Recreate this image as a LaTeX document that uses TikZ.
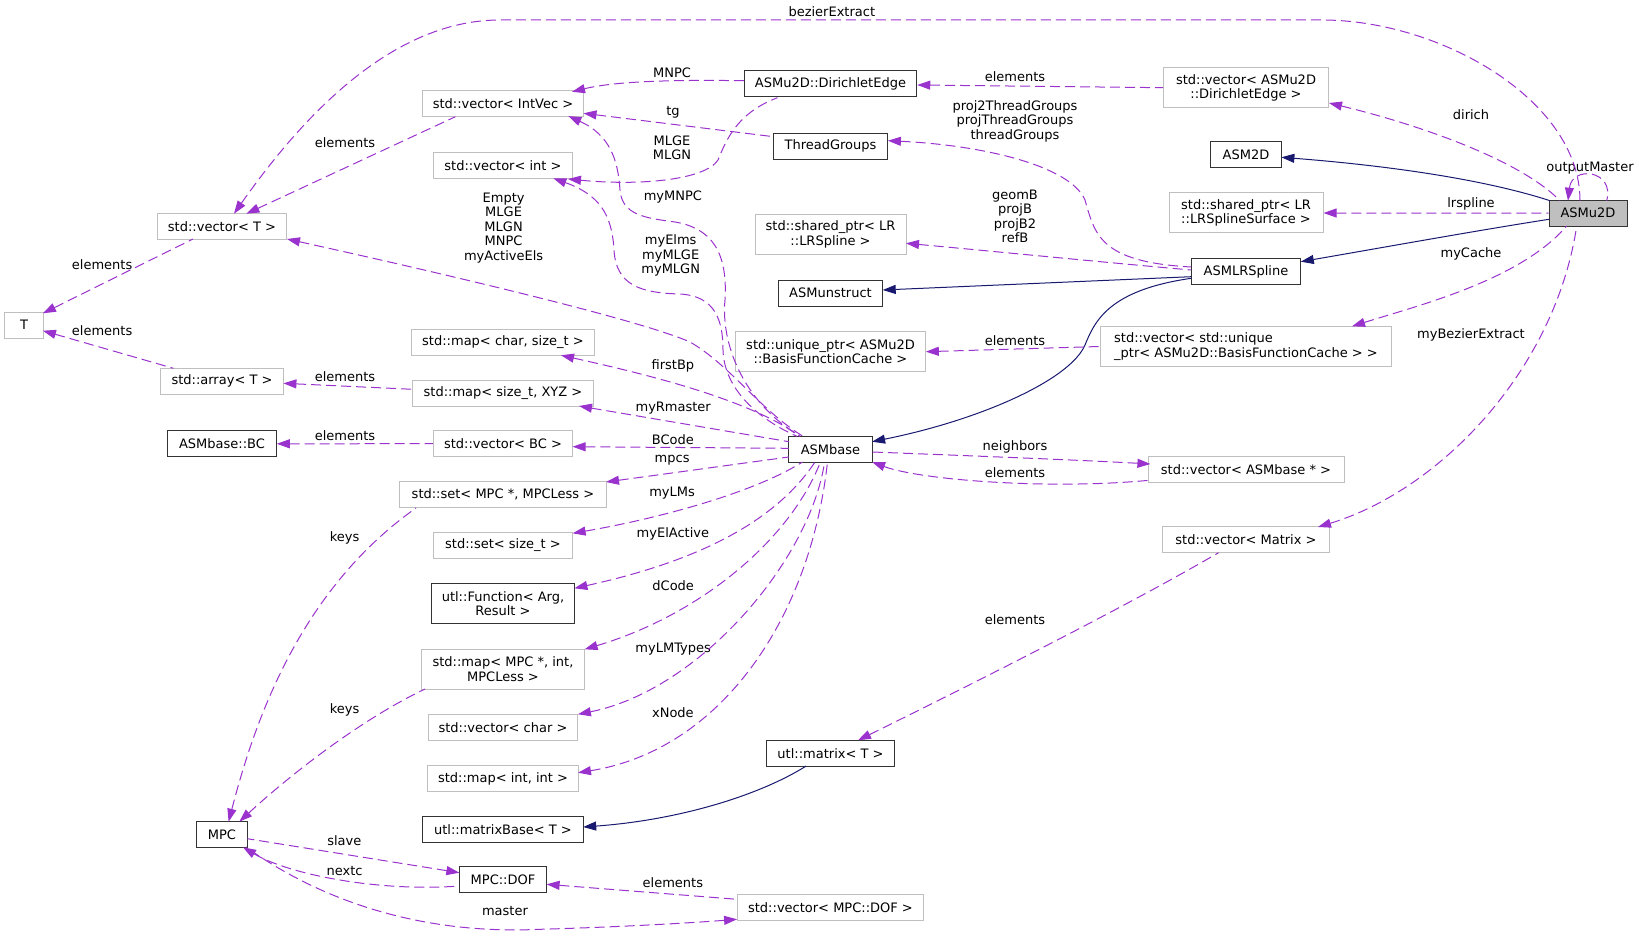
\documentclass[tikz,border=0pt]{standalone}
\usepackage{fontspec}
\setmainfont{DejaVu Sans}
\usetikzlibrary{arrows.meta,calc}
\definecolor{depc}{HTML}{9A32CD}
\definecolor{inhc}{HTML}{191970}
\definecolor{gb}{HTML}{BFBFBF}
\definecolor{bb}{HTML}{333333}
\begin{document}
\begin{tikzpicture}[x=1pt,y=-1pt,
  font=\fontsize{13}{14.5}\selectfont,
  box/.style={draw=bb, line width=1pt, fill=white, minimum height=25.7pt, inner sep=0pt, align=center},
  gbox/.style={box, draw=gb},
  tall/.style={minimum height=40pt},
  lab/.style={inner sep=0pt, align=center},
  dep/.style={draw=depc, line width=1pt, dash pattern=on 10pt off 5pt, arrows={Triangle[length=13pt,width=9pt,fill=depc]-}},
  inh/.style={draw=inhc, line width=1pt, arrows={Triangle[length=13pt,width=9pt,fill=inhc]-}}
]
\useasboundingbox (0,0) rectangle (1639,936);
% ---------- nodes ----------
\node[box, fill=gb, minimum width=78pt] (ASMu2D) at (1588,213.2) {ASMu2D};
\node[gbox, minimum width=129.3pt] (vecT) at (222,226.3) {std::vector< T >};
\node[gbox, minimum width=39pt] (T) at (24.1,325.2) {T};
\node[gbox, minimum width=161pt] (IntVec) at (503,103.8) {std::vector< IntVec >};
\node[gbox, minimum width=139.3pt] (vecInt) at (503,165.5) {std::vector< int >};
\node[box, minimum width=172.5pt] (DirEdge) at (830.5,83.7) {ASMu2D::DirichletEdge};
\node[box, minimum width=114pt] (TG) at (830.5,146.3) {ThreadGroups};
\node[gbox, tall, minimum width=151pt] (sharedLR) at (830.5,234.5) {std::shared\_ptr< LR\\::LRSpline >};
\node[box, minimum width=104.3pt] (ASMun) at (830.5,293.2) {ASMunstruct};
\node[gbox, tall, minimum width=165pt] (vecDir) at (1246,87.7) {std::vector< ASMu2D\\::DirichletEdge >};
\node[box, minimum width=70.7pt] (ASM2D) at (1246,154.3) {ASM2D};
\node[gbox, tall, minimum width=154pt] (sharedSurf) at (1246,213) {std::shared\_ptr< LR\\::LRSplineSurface >};
\node[box, minimum width=109.6pt] (ASMLR) at (1246,271.8) {ASMLRSpline};
\node[gbox, tall, minimum width=291.4pt, align=left] (vecUnique) at (1246,346.5) {std::vector< std::unique\\\_ptr< ASMu2D::BasisFunctionCache > >};
\node[gbox, minimum width=196pt] (vecASMbase) at (1246,469.2) {std::vector< ASMbase * >};
\node[gbox, minimum width=166.8pt] (vecMatrix) at (1246,539.8) {std::vector< Matrix >};
\node[gbox, minimum width=122.8pt] (arrayT) at (222,381.2) {std::array< T >};
\node[gbox, minimum width=182.8pt] (mapChar) at (503,342.5) {std::map< char, size\_t >};
\node[gbox, minimum width=181pt] (mapXYZ) at (503,393.2) {std::map< size\_t, XYZ >};
\node[box, minimum width=108.5pt] (BC) at (222,443.8) {ASMbase::BC};
\node[gbox, minimum width=139.3pt] (vecBC) at (503,443.7) {std::vector< BC >};
\node[gbox, minimum width=207.5pt] (setMPC) at (503,494.7) {std::set< MPC *, MPCLess >};
\node[gbox, minimum width=139.3pt] (setSize) at (503,545.2) {std::set< size\_t >};
\node[box, tall, minimum width=142.8pt] (utlFunc) at (503,603.7) {utl::Function< Arg,\\Result >};
\node[gbox, tall, minimum width=189.7pt] (uniqueBFC) at (830.5,351.7) {std::unique\_ptr< ASMu2D\\::BasisFunctionCache >};
\node[box, minimum width=83.2pt] (ASMbase) at (830.5,449.2) {ASMbase};
\node[gbox, tall, minimum width=163.2pt] (mapMPC) at (503,669.2) {std::map< MPC *, int,\\MPCLess >};
\node[gbox, minimum width=149.7pt] (vecChar) at (503,727.8) {std::vector< char >};
\node[gbox, minimum width=150.3pt] (mapInt) at (503,778.5) {std::map< int, int >};
\node[box, minimum width=160.3pt] (matrixBase) at (503,829.2) {utl::matrixBase< T >};
\node[box, minimum width=50.7pt] (MPC) at (222,834.3) {MPC};
\node[box, minimum width=87.1pt] (DOF) at (503,879.7) {MPC::DOF};
\node[box, minimum width=128.2pt] (utlMatrix) at (830.5,753.2) {utl::matrix< T >};
\node[gbox, minimum width=186.8pt] (vecDOF) at (830.5,907.8) {std::vector< MPC::DOF >};
% ---------- labels ----------
\node[lab] (lbez) at (831.8,11.7) {bezierExtract};
\node[lab] (lmnpc) at (672,72.7) {MNPC};
\node[lab] (lel1) at (1015,76.7) {elements};
\node[lab] (ldirich) at (1471,115) {dirich};
\node[lab] (lproj) at (1015,121) {proj2ThreadGroups\\projThreadGroups\\threadGroups};
\node[lab] (lout) at (1590,168.3) {outputMaster};
\node[lab] (ltg) at (673,112) {tg};
\node[lab] (lmlge) at (672,148) {MLGE\\MLGN};
\node[lab] (llrs) at (1471,204) {lrspline};
\node[lab] (lel2) at (345,142.3) {elements};
\node[lab] (lmymnpc) at (672.9,196.7) {myMNPC};
\node[lab] (lgeom) at (1015,216.5) {geomB\\projB\\projB2\\refB};
\node[lab] (lempty) at (503.6,227.8) {Empty\\MLGE\\MLGN\\MNPC\\myActiveEls};
\node[lab] (lmyelms) at (670.7,255.5) {myElms\\myMLGE\\myMLGN};
\node[lab] (lcache) at (1471,254.3) {myCache};
\node[lab] (lel3) at (102.1,264.3) {elements};
\node[lab] (lel4) at (102.1,330.3) {elements};
\node[lab] (lel5) at (345,376.3) {elements};
\node[lab] (lfirst) at (672.9,366.3) {firstBp};
\node[lab] (lel6) at (1015,340.7) {elements};
\node[lab] (lmybez) at (1471,335) {myBezierExtract};
\node[lab] (lrmaster) at (673.2,408.3) {myRmaster};
\node[lab] (lel7) at (345,435.7) {elements};
\node[lab] (lbcode) at (672.9,439.3) {BCode};
\node[lab] (lmpcs) at (672.1,460.7) {mpcs};
\node[lab] (lneigh) at (1015,447.3) {neighbors};
\node[lab] (lel8) at (1015,472.3) {elements};
\node[lab] (lmylms) at (672.1,492.7) {myLMs};
\node[lab] (lkeys1) at (344.6,538.3) {keys};
\node[lab] (lelact) at (672.9,534.3) {myElActive};
\node[lab] (ldcode) at (673.2,586) {dCode};
\node[lab] (lel9) at (1015,619.3) {elements};
\node[lab] (llmt) at (673.2,648.7) {myLMTypes};
\node[lab] (lkeys2) at (344.6,710.3) {keys};
\node[lab] (lxnode) at (672.9,712.3) {xNode};
\node[lab] (lslave) at (344.3,840.3) {slave};
\node[lab] (lnextc) at (344.6,870.7) {nextc};
\node[lab] (lel10) at (672.9,882.3) {elements};
\node[lab] (lmaster) at (505,911.3) {master};
% ---------- edges ----------
\draw[dep] ($(vecT)+(12,-12.6)$) .. controls (300,120) and (390,20) .. (500,20) -- (1322,20) .. controls (1440,20) and (1580,100) .. ($(ASMu2D)+(-8,-12.5)$);
\draw[dep] ($(ASMu2D)+(-20,-12.5)$) .. controls (1572,165) and (1615,170) .. ($(ASMu2D)+(18.7,-12.5)$);
\draw[dep] ($(vecDir)+(83,15.3)$) .. controls (1420,125) and (1520,160) .. ($(ASMu2D)+(-28,-12.5)$);
\draw[inh] ($(ASM2D)+(35.4,3)$) .. controls (1380,165) and (1480,178) .. ($(ASMu2D)+(-38,-12.5)$);
\draw[dep] (sharedSurf.east) -- (ASMu2D.west);
\draw[inh] ($(ASMLR)+(54.8,-10.1)$) .. controls (1380,248) and (1480,230) .. ($(ASMu2D)+(-39,6.1)$);
\draw[dep] ($(vecUnique)+(106,-20.2)$) .. controls (1420,305) and (1520,280) .. ($(ASMu2D)+(-21.3,12.8)$);
\draw[dep] ($(vecMatrix)+(72,-12.8)$) .. controls (1440,490) and (1555,370) .. ($(ASMu2D)+(-11.3,12.8)$);
\draw[dep] ($(DirEdge.east)+(0,1.3)$) -- (vecDir.west);
\draw[dep] ($(IntVec)+(69,-12)$) .. controls (620,80) and (690,80) .. ($(DirEdge)+(-86.25,-3)$);
\draw[dep] ($(vecInt)+(65,13.5)$) .. controls (640,186) and (705,180) .. (718,160) .. controls (728,135) and (740,112) .. ($(DirEdge)+(-53,14)$);
\draw[dep] ($(IntVec)+(80.5,9.5)$) -- ($(TG)+(-57,-9.6)$);
\draw[dep] ($(IntVec)+(65.3,12.3)$) .. controls (610,135) and (618,160) .. (620,190) .. controls (622,215) and (645,218) .. (675,222) .. controls (710,228) and (728,250) .. (725,300) .. controls (721,340) and (740,400) .. ($(ASMbase)+(-30.5,-12.9)$);
\draw[dep] ($(vecInt)+(50.3,12.8)$) .. controls (600,195) and (612,215) .. (614,250) .. controls (616,285) and (640,293) .. (680,294) .. controls (715,296) and (723,320) .. (723,350) .. controls (724,390) and (760,420) .. ($(ASMbase)+(-33.5,-12.9)$);
\draw[dep] ($(vecT)+(65,12.7)$) .. controls (450,275) and (640,320) .. (690,342) .. controls (730,365) and (760,410) .. ($(ASMbase)+(-27.5,-12.9)$);
\draw[dep] ($(mapChar)+(58,12.8)$) .. controls (650,375) and (750,400) .. ($(ASMbase)+(-30.5,-12.9)$);
\draw[dep] ($(mapXYZ)+(76,12.8)$) -- ($(ASMbase)+(-41.6,-7.5)$);
\draw[dep] ($(vecBC)+(69.6,3)$) -- ($(ASMbase)+(-41.6,-0.9)$);
\draw[dep] ($(setMPC)+(103,-12.7)$) -- ($(ASMbase)+(-41.6,7.8)$);
\draw[dep] ($(setSize)+(69.6,-11.9)$) .. controls (650,520) and (750,495) .. ($(ASMbase)+(-28,12.8)$);
\draw[dep] ($(utlFunc)+(71.4,-15.4)$) .. controls (680,565) and (770,530) .. ($(ASMbase)+(-15.5,12.8)$);
\draw[dep] ($(mapMPC)+(81.6,-19.9)$) .. controls (700,615) and (790,540) .. ($(ASMbase)+(-10.1,12.8)$);
\draw[dep] ($(vecChar)+(74.9,-13.5)$) .. controls (700,690) and (810,560) .. ($(ASMbase)+(-5.9,12.8)$);
\draw[dep] ($(mapInt)+(75,-5.8)$) .. controls (720,750) and (810,620) .. ($(ASMbase)+(-3,12.8)$);
\draw[dep] ($(vecASMbase)+(-95.6,-5.2)$) .. controls (1080,460) and (950,455) .. ($(ASMbase)+(41.6,2.8)$);
\draw[dep] ($(ASMbase)+(41.6,12.8)$) .. controls (920,480) and (1050,490) .. ($(vecASMbase)+(-96,11)$);
\draw[inh] ($(ASMbase)+(41.6,-7.5)$) .. controls (980,420) and (1070,380) .. (1085,345) .. controls (1095,320) and (1110,290) .. ($(ASMLR)+(-54.8,6.5)$);
\draw[inh] ($(ASMun)+(52.2,-3.2)$) -- ($(ASMLR)+(-54.8,4.9)$);
\draw[dep] ($(TG)+(57.4,-5.6)$) .. controls (980,145) and (1070,165) .. (1085,200) .. controls (1095,235) and (1100,262) .. ($(ASMLR)+(-54.8,-4.8)$);
\draw[dep] ($(sharedLR)+(75.5,8.8)$) .. controls (980,250) and (1100,262) .. ($(ASMLR)+(-54.8,-1.8)$);
\draw[dep] (uniqueBFC.east) -- (vecUnique.west);
\draw[dep] ($(utlMatrix)+(27.5,-12.9)$) .. controls (960,690) and (1120,610) .. ($(vecMatrix)+(-27.4,12.9)$);
\draw[inh] ($(matrixBase)+(80.2,-2.2)$) .. controls (680,820) and (760,795) .. ($(utlMatrix)+(-24.5,12.9)$);
\draw[dep] ($(MPC)+(6.6,-12.6)$) .. controls (255,720) and (300,590) .. ($(setMPC)+(-87,13.3)$);
\draw[dep] ($(MPC)+(17.3,-12.6)$) .. controls (290,775) and (360,720) .. ($(mapMPC)+(-78,19.8)$);
\draw[dep] ($(DOF)+(-43.6,-7)$) -- ($(MPC)+(25.3,4.4)$);
\draw[dep] ($(MPC)+(21,13)$) .. controls (290,875) and (380,892) .. ($(DOF)+(-43.6,6.3)$);
\draw[dep] ($(DOF)+(43.6,4.6)$) -- ($(vecDOF)+(-93.4,-8.5)$);
\draw[dep] ($(vecDOF)+(-93.4,11.5)$) .. controls (690,923) and (620,927) .. (540,929.3) .. controls (420,935) and (320,900) .. ($(MPC)+(24,12.7)$);
\draw[dep] ($(T)+(18.8,-11.9)$) -- ($(vecT)+(-29,12.7)$);
\draw[dep] ($(T)+(18.8,5.5)$) -- ($(arrayT)+(-48.6,-12.9)$);
\draw[dep] ($(arrayT)+(61.4,2.1)$) -- ($(mapXYZ)+(-90.5,-3.9)$);
\draw[dep] (BC.east) -- (vecBC.west);
\draw[dep] ($(vecT)+(24.4,-12.6)$) -- ($(IntVec)+(-47.6,12.9)$);
\end{tikzpicture}
\end{document}
